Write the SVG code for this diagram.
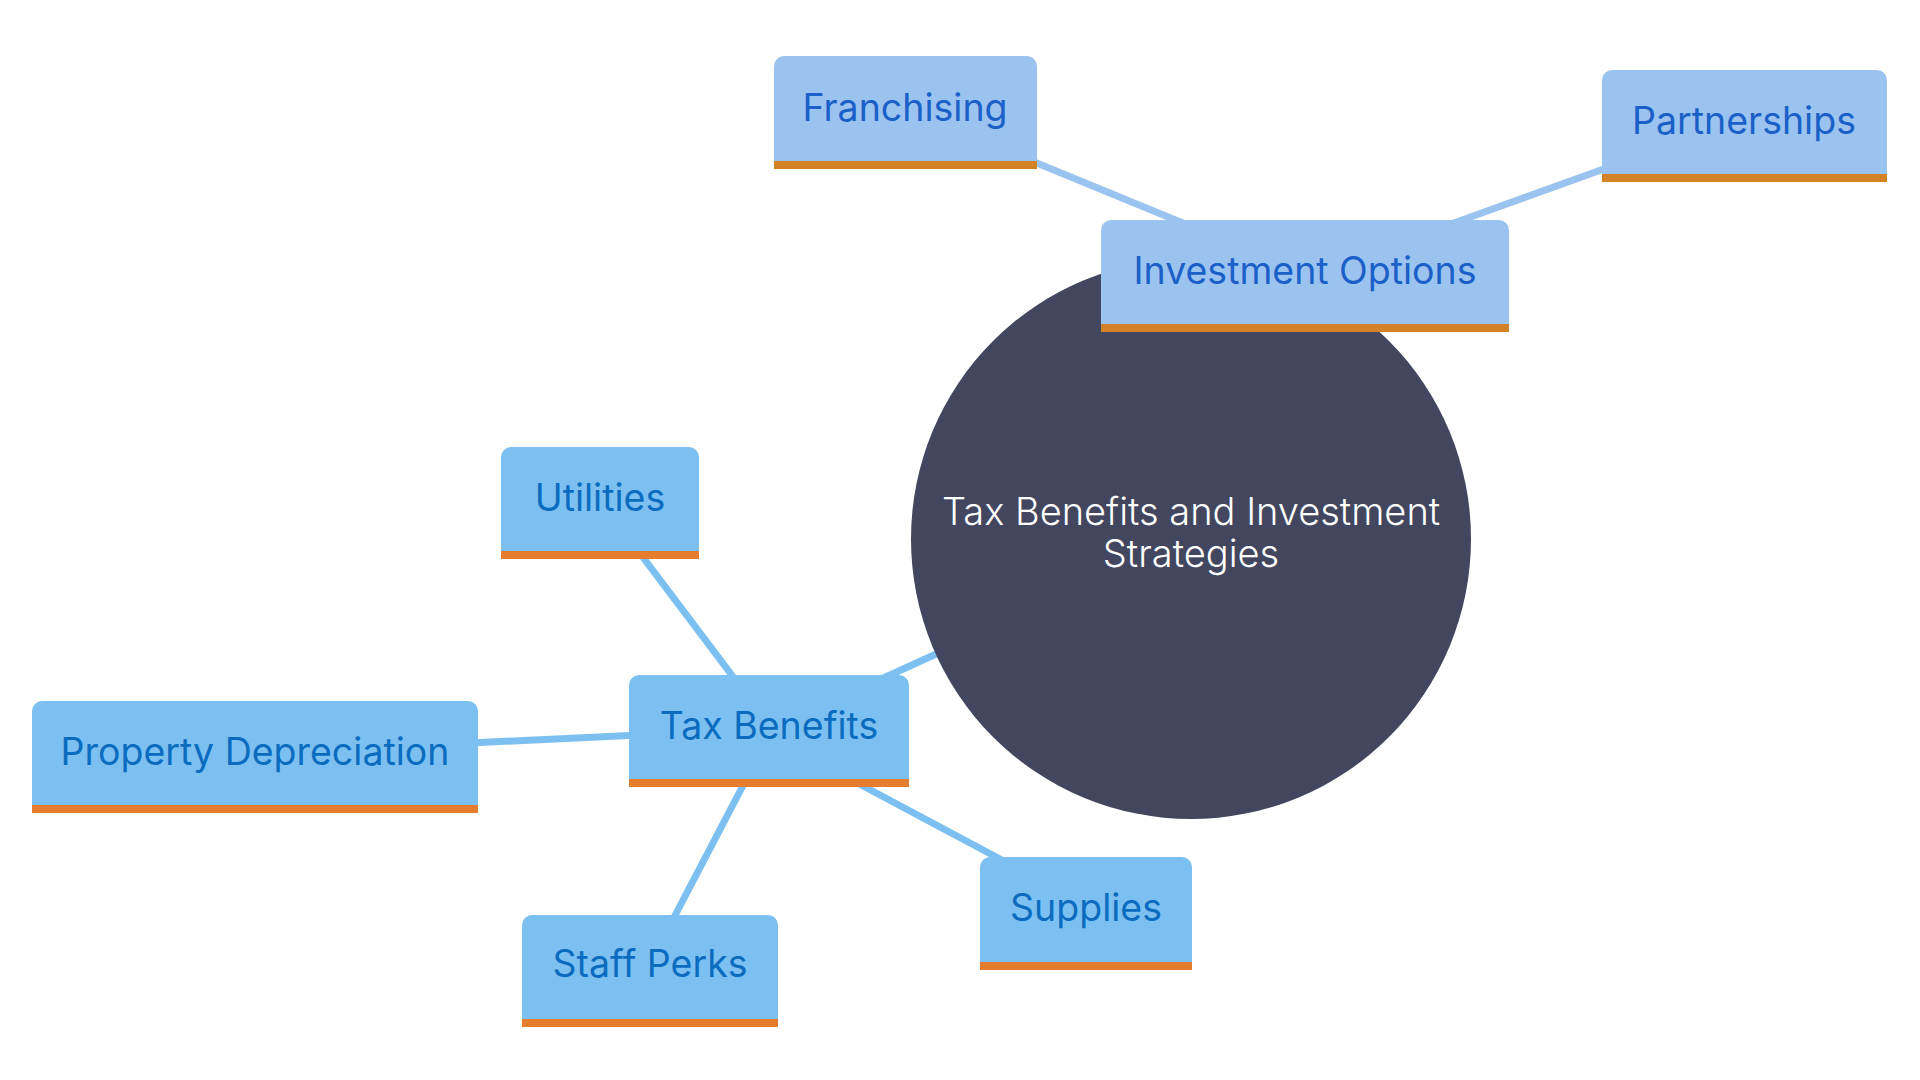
<svg xmlns="http://www.w3.org/2000/svg" width="1920" height="1080" viewBox="0 0 1920 1080">
<style>
.lbl{font-family:Inter,"Noto Sans",sans-serif;font-size:37.5px;text-anchor:middle}
.tax .box{fill:#7cc0f2}
.tax .bar{fill:#e67c2e}
.tax text{fill:#0b6cbf}
.inv .box{fill:#9bc3ef}
.inv .bar{fill:#d48226}
.inv text{fill:#1a60c8}
.e-tax{stroke:#7cc0f2;stroke-width:7;fill:none}
.e-inv{stroke:#9bc3ef;stroke-width:7;fill:none}
.root text{font-family:Inter,"Noto Sans",sans-serif;font-size:38px;font-weight:300;fill:#ffffff;text-anchor:middle}
</style>
<rect width="1920" height="1080" fill="#ffffff"/>
<g id="connectors">
<line class="e-tax" x1="769" y1="730" x2="1000" y2="625"/>
<line class="e-tax" x1="740" y1="686" x2="636" y2="548"/>
<line class="e-tax" x1="640" y1="735" x2="470" y2="743"/>
<line class="e-tax" x1="748" y1="776" x2="670" y2="925"/>
<line class="e-tax" x1="850" y1="779" x2="1015" y2="867"/>
<line class="e-inv" x1="1027" y1="159" x2="1195" y2="228"/>
<line class="e-inv" x1="1612" y1="166" x2="1440" y2="228"/>
</g>
<g id="root" class="root">
<circle cx="1191" cy="539" r="280" fill="#42465e"/>
<text x="1191" y="525">Tax Benefits and Investment</text>
<text x="1191" y="567">Strategies</text>
</g>
<g id="investment-options" class="inv">
<path class="box" d="M1101,332 V230 a10,10 0 0 1 10,-10 H1499 a10,10 0 0 1 10,10 V332 Z"/>
<rect class="bar" x="1101" y="324" width="408" height="8"/>
<text class="lbl" x="1305" y="284">Investment Options</text>
</g>
<g id="franchising" class="inv">
<path class="box" d="M774,169 V66 a10,10 0 0 1 10,-10 H1027 a10,10 0 0 1 10,10 V169 Z"/>
<rect class="bar" x="774" y="161" width="263" height="8"/>
<text class="lbl" x="905" y="121">Franchising</text>
</g>
<g id="partnerships" class="inv">
<path class="box" d="M1602,182 V80 a10,10 0 0 1 10,-10 H1877 a10,10 0 0 1 10,10 V182 Z"/>
<rect class="bar" x="1602" y="174" width="285" height="8"/>
<text class="lbl" x="1744" y="134">Partnerships</text>
</g>
<g id="tax-benefits" class="tax">
<path class="box" d="M629,787 V685 a10,10 0 0 1 10,-10 H899 a10,10 0 0 1 10,10 V787 Z"/>
<rect class="bar" x="629" y="779" width="280" height="8"/>
<text class="lbl" x="769" y="739">Tax Benefits</text>
</g>
<g id="utilities" class="tax">
<path class="box" d="M501,559 V457 a10,10 0 0 1 10,-10 H689 a10,10 0 0 1 10,10 V559 Z"/>
<rect class="bar" x="501" y="551" width="198" height="8"/>
<text class="lbl" x="600" y="511">Utilities</text>
</g>
<g id="property-depreciation" class="tax">
<path class="box" d="M32,813 V711 a10,10 0 0 1 10,-10 H468 a10,10 0 0 1 10,10 V813 Z"/>
<rect class="bar" x="32" y="805" width="446" height="8"/>
<text class="lbl" x="255" y="765">Property Depreciation</text>
</g>
<g id="staff-perks" class="tax">
<path class="box" d="M522,1027 V925 a10,10 0 0 1 10,-10 H768 a10,10 0 0 1 10,10 V1027 Z"/>
<rect class="bar" x="522" y="1019" width="256" height="8"/>
<text class="lbl" x="650" y="977">Staff Perks</text>
</g>
<g id="supplies" class="tax">
<path class="box" d="M980,970 V867 a10,10 0 0 1 10,-10 H1182 a10,10 0 0 1 10,10 V970 Z"/>
<rect class="bar" x="980" y="962" width="212" height="8"/>
<text class="lbl" x="1086" y="921">Supplies</text>
</g>
</svg>
